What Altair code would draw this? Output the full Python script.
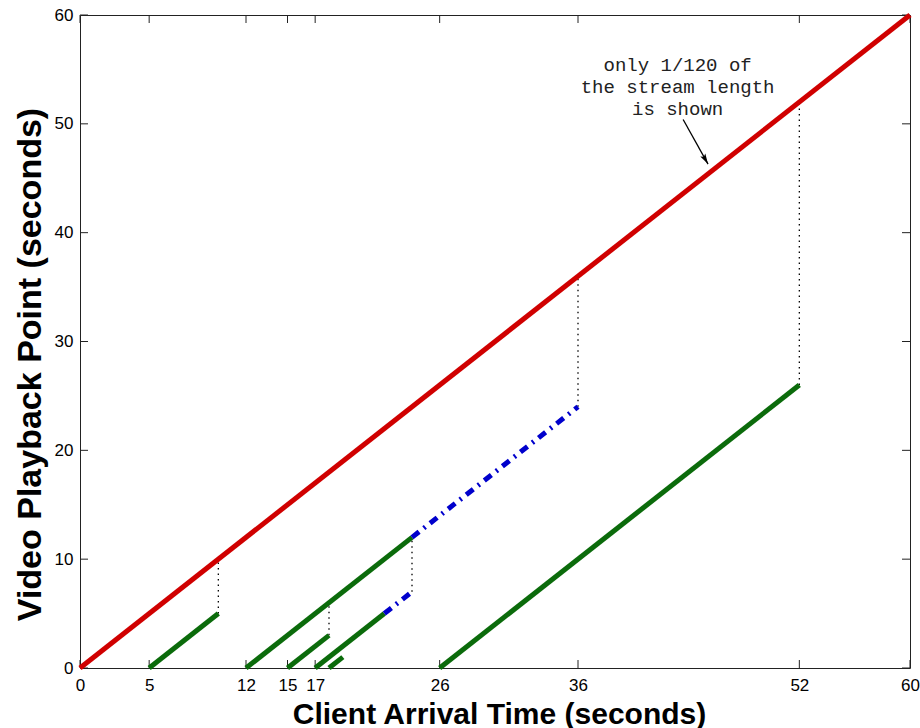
import altair as alt
import pandas as pd

# ---- data ----
x_ticks = [0, 5, 12, 15, 17, 26, 36, 52, 60]
y_ticks = [0, 10, 20, 30, 40, 50, 60]

# full stream (red)
red_x1 = [0]
red_y1 = [0]
red_x2 = [60]
red_y2 = [60]

# patch streams (green)
green_x1 = [5, 12, 15, 17, 18, 26]
green_y1 = [0, 0, 0, 0, 0, 0]
green_x2 = [10, 24, 18, 22, 19, 52]
green_y2 = [5, 12, 3, 5, 1, 26]

# merged streams (blue dash-dot)
blue_x1 = [24, 22]
blue_y1 = [12, 5]
blue_x2 = [36, 24]
blue_y2 = [24, 7]

# dotted merge connectors
dot_x = [10, 18, 24, 36, 52]
dot_y1 = [5, 3, 7, 24, 26]
dot_y2 = [10, 6, 12, 36, 52]

# annotation
ann_lines = ["only 1/120 of", "the stream length", "\u00a0is shown"]
ann_x = [43.2, 43.2, 43.2]
ann_y = [54.87, 52.85, 50.83]
arrow_x1 = [43.6]
arrow_y1 = [50.4]
arrow_x2 = [45.4]
arrow_y2 = [46.3]

# ---- tables ----
def seg(x1, y1, x2, y2):
    return pd.DataFrame({"x": x1, "y": y1, "x2": x2, "y2": y2})

red_df = seg(red_x1, red_y1, red_x2, red_y2)
green_df = seg(green_x1, green_y1, green_x2, green_y2)
blue_df = seg(blue_x1, blue_y1, blue_x2, blue_y2)
dot_df = pd.DataFrame({"x": dot_x, "y": dot_y1, "y2": dot_y2})
ann_df = pd.DataFrame({"x": ann_x, "y": ann_y, "t": ann_lines})
arrow_df = seg(arrow_x1, arrow_y1, arrow_x2, arrow_y2)
xt_df = pd.DataFrame({"x": x_ticks})
yt_df = pd.DataFrame({"y": y_ticks})

W, H = 830, 653
xscale = alt.Scale(domain=[0, 60], nice=False, zero=False)
yscale = alt.Scale(domain=[0, 60], nice=False, zero=False)

xaxis = alt.Axis(values=x_ticks, title="Client Arrival Time (seconds)", grid=False,
                 domain=False, ticks=False, labelPadding=9, labelFontSize=17,
                 labelFlush=False, labelOverlap=False, labelColor="black",
                 titleFontSize=30, titleFontWeight="bold", titleColor="black",
                 titleX=419, titleY=55, titleBaseline="alphabetic")
yaxis = alt.Axis(values=y_ticks, title="Video Playback Point (seconds)", grid=False,
                 domain=False, ticks=False, labelPadding=7, labelFontSize=17,
                 labelFlush=False, labelOverlap=False, labelColor="black",
                 titleFontSize=34, titleFontWeight="bold", titleColor="black",
                 titleX=-50, titleY=349, titleBaseline="middle")

X = lambda f="x": alt.X(f"{f}:Q", scale=xscale, axis=xaxis)
Y = lambda f="y": alt.Y(f"{f}:Q", scale=yscale, axis=yaxis)

# inward ticks on all four sides
tick_color = "#222222"
bt = alt.Chart(xt_df).mark_rule(color=tick_color, strokeWidth=1).encode(
    x=X(), y=alt.value(H), y2=alt.value(H - 8))
tt = alt.Chart(xt_df).mark_rule(color=tick_color, strokeWidth=1).encode(
    x=X(), y=alt.value(0), y2=alt.value(8))
lt = alt.Chart(yt_df).mark_rule(color=tick_color, strokeWidth=1).encode(
    y=Y(), x=alt.value(0), x2=alt.value(8))
rt = alt.Chart(yt_df).mark_rule(color=tick_color, strokeWidth=1).encode(
    y=Y(), x=alt.value(W), x2=alt.value(W - 8))

dots = alt.Chart(dot_df).mark_rule(color="black", strokeWidth=1.3, strokeDash=[1.5, 4]).encode(
    x=X(), y=Y(), y2="y2:Q")

def segs(df, color, dash=None):
    kw = dict(color=color, strokeWidth=5, strokeCap="butt")
    if dash is not None:
        kw["strokeDash"] = dash
    return alt.Chart(df).mark_rule(**kw).encode(x=X(), y=Y(), x2="x2:Q", y2="y2:Q")

green = segs(green_df, "#0b6b0b")
blue = segs(blue_df, "#0000cc", [9, 6, 2, 6])
red = segs(red_df, "#d00000")

ann = alt.Chart(ann_df).mark_text(font="Liberation Mono", fontSize=19, color="#222222",
                                  align="center", baseline="alphabetic").encode(
    x=X(), y=Y(), text="t:N")

arrow_line = alt.Chart(arrow_df).mark_rule(color="black", strokeWidth=1.3).encode(
    x=X(), y=Y(), x2="x2:Q", y2="y2:Q")
arrow_head = alt.Chart(arrow_df).mark_point(
    shape="M0,0 L-0.55,2 L0,1.6 L0.55,2 Z", filled=True, color="black",
    size=110, angle=150, opacity=1).encode(
    x=alt.X("x2:Q", scale=xscale, axis=xaxis), y=alt.Y("y2:Q", scale=yscale, axis=yaxis))

chart = alt.layer(bt, tt, lt, rt, dots, green, blue, red, ann, arrow_line, arrow_head).properties(
    width=W, height=H,
    autosize=alt.AutoSizeParams(type="none"),
    padding={"left": 80, "top": 15, "right": 10, "bottom": 60},
).configure(
    font="Liberation Sans",
).configure_view(
    stroke="#222222", strokeWidth=1,
)

chart.save("out.html", embed_options={"renderer": "svg", "actions": False})
